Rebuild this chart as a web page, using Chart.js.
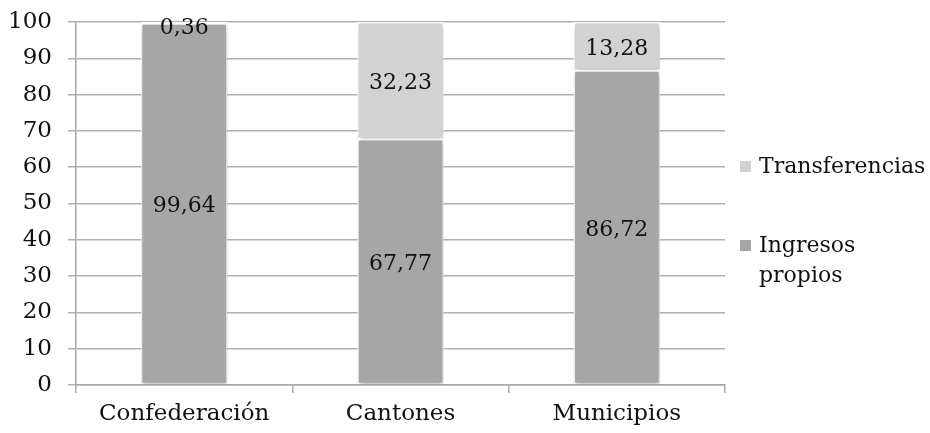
<!DOCTYPE html>
<html>
<head>
<meta charset="utf-8">
<script src="https://cdn.jsdelivr.net/npm/chart.js@4.4.1/dist/chart.umd.min.js"></script>
<style>
  html, body { margin: 0; padding: 0; background: #ffffff; }
  #wrap { position: relative; width: 930px; height: 433px; }
  #legend { position: absolute; left: 740px; top: 0; font-family: "DejaVu Serif", serif; font-size: 22px; color: #111; }
  .item { position: absolute; left: 0; display: flex; align-items: flex-start; white-space: nowrap; }
  .box { width: 11px; height: 11px; margin-right: 8px; margin-top: 10px; flex: none; }
  .txt { line-height: 30px; }
</style>
</head>
<body>
<div id="wrap">
  <canvas id="c" width="930" height="433"></canvas>
  <div id="legend"></div>
</div>
<script>
const categories = ["Confederación", "Cantones", "Municipios"];
const ingresosPropios = [99.64, 67.77, 86.72];
const transferencias = [0.36, 32.23, 13.28];
const yTicks = [0, 10, 20, 30, 40, 50, 60, 70, 80, 90, 100];

const FONT = '"DejaVu Serif", serif';
const darkGray = "#a6a6a6";
const lightGray = "#d2d2d2";

const fmt = v => v.toFixed(2).replace(".", ",");

// value labels centred on every stacked segment
const segmentLabels = {
  id: "segmentLabels",
  afterDatasetsDraw(chart) {
    const ctx = chart.ctx;
    const top = chart.chartArea.top;
    ctx.save();
    ctx.font = "22px " + FONT;
    ctx.fillStyle = "#111";
    ctx.textAlign = "center";
    ctx.textBaseline = "middle";
    chart.data.datasets.forEach((ds, i) => {
      chart.getDatasetMeta(i).data.forEach((bar, j) => {
        const y = Math.max((bar.y + bar.base) / 2 + 3, top + 6);
        ctx.fillText(fmt(ds.data[j]), bar.x, y);
      });
    });
    ctx.restore();
  }
};

// soft drop shadow under the bars
const barShadow = {
  id: "barShadow",
  beforeDatasetsDraw(chart) {
    const ctx = chart.ctx;
    ctx.save();
    ctx.shadowColor = "rgba(0,0,0,0.28)";
    ctx.shadowBlur = 5;
    ctx.shadowOffsetX = 1;
    ctx.shadowOffsetY = 2;
  },
  afterDatasetsDraw(chart) {
    chart.ctx.restore();
  }
};

const chart = new Chart(document.getElementById("c"), {
  type: "bar",
  data: {
    labels: categories,
    datasets: [
      { label: "Ingresos propios", data: ingresosPropios, backgroundColor: darkGray,
        borderColor: "#ffffff", borderWidth: 1.5, borderSkipped: false },
      { label: "Transferencias", data: transferencias, backgroundColor: lightGray,
        borderColor: "#ffffff", borderWidth: 1.5, borderSkipped: false }
    ]
  },
  options: {
    responsive: false,
    animation: false,
    layout: { padding: { left: 0, right: 205, top: 22, bottom: 0 } },
    plugins: { legend: { display: false }, tooltip: { enabled: false } },
    datasets: { bar: { categoryPercentage: 1.0, barPercentage: 0.4 } },
    scales: {
      x: {
        stacked: true,
        offset: true,
        afterFit: s => { s.height = 48; s.paddingLeft = 0; s.paddingRight = 0; },
        grid: { offset: true, drawOnChartArea: false, color: "#a8a8a8", lineWidth: 1.5, tickLength: 8 },
        border: { color: "#a8a8a8", width: 1.5 },
        ticks: { color: "#111", font: { family: FONT, size: 23 }, padding: 7 }
      },
      y: {
        stacked: true,
        min: 0,
        max: 100,
        afterFit: s => { s.width = 76; s.paddingTop = 0; s.paddingBottom = 0; },
        afterBuildTicks: s => { s.ticks = yTicks.map(v => ({ value: v })); },
        grid: { color: "#b0b0b0", lineWidth: 1.5, tickLength: 8 },
        border: { color: "#a8a8a8", width: 1.5 },
        ticks: { color: "#111", font: { family: FONT, size: 23 }, padding: 16 }
      }
    }
  },
  plugins: [barShadow, segmentLabels]
});

// legend entries drawn from the dataset colours
const legend = document.getElementById("legend");
const entries = [
  { ds: chart.data.datasets[1], text: "Transferencias", top: 151 },
  { ds: chart.data.datasets[0], text: "Ingresos<br>propios", top: 230 }
];
entries.forEach(e => {
  const item = document.createElement("div");
  item.className = "item";
  item.style.top = e.top + "px";
  item.innerHTML = '<span class="box" style="background:' + e.ds.backgroundColor + '"></span><span class="txt">' + e.text + "</span>";
  legend.appendChild(item);
});
</script>
</body>
</html>
